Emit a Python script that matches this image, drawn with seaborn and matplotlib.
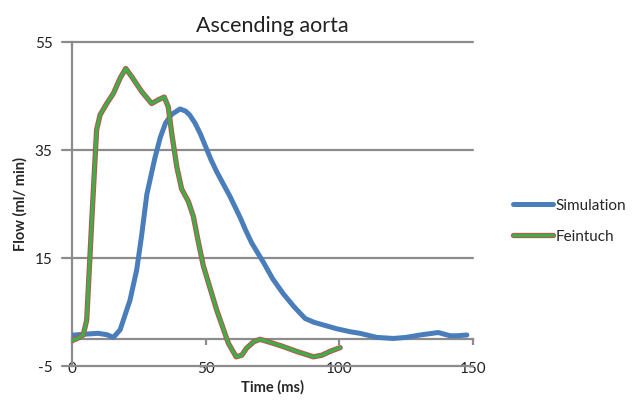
import matplotlib
matplotlib.use("Agg")
import matplotlib.pyplot as plt
import matplotlib.patheffects as pe
import seaborn as sns
import pandas as pd

# Simulated flow in the ascending aorta
sim_time = [0, 5, 9.8, 13, 15.5, 18, 21.7, 24.2, 26, 28, 31, 33, 35, 37.3, 40.4, 42.5,
            44, 46, 48, 50, 52, 54.1, 59.1, 62.9, 65, 67.2, 71.6, 75,
            79, 83, 87.2, 90.5, 94, 99, 104, 107.7, 114, 120.2, 125, 130.2, 134, 137, 141.4,
            144, 147.7]
sim_flow = [0.7, 0.9, 1.05, 0.8, 0.3, 1.7, 7.2, 12.8, 19, 26.8, 33.5, 37.3, 40.0, 41.6, 42.6, 42.2,
            41.5, 40.0, 38.0, 35.6, 33.2, 31.0, 26.4, 22.5, 20.1, 17.8, 14.2, 11.2,
            8.4, 6.0, 3.8, 3.1, 2.6, 1.9, 1.35, 1.05, 0.3, 0.1, 0.3, 0.74, 1.0, 1.2, 0.6,
            0.6, 0.74]

# Reference measurements (Feintuch)
fei_time = [0, 2, 4.2, 5.5, 7.4, 8.0, 9.2, 10.5, 13, 15.5, 18, 20.1, 22.3, 26.1, 29.8, 32.3,
            34.5, 36, 37.3, 39.2, 41, 43.5, 45.4, 47, 49.1, 54.1, 58.5, 61.4, 63.5, 65.3, 68,
            70.3, 74, 79, 84, 90.3, 93.5, 96.5, 100.3]
fei_flow = [-0.3, 0.1, 0.74, 3.5, 22, 27.6, 38.7, 41.5, 43.6, 45.5, 48.3, 50.1, 48.6, 45.8, 43.6,
            44.3, 44.8, 43.0, 38.1, 31.9, 27.8, 25.5, 22.7, 18.6, 13.6, 5.4, -0.8, -3.3, -3.0, -1.7,
            -0.5, -0.06, -0.6, -1.4, -2.3, -3.3, -3.0, -2.3, -1.6]

x_ticks = [0, 50, 100, 150]
y_ticks = [-5, 15, 35, 55]

sns.set_theme(style="white")
plt.rcParams["font.family"] = ["Lato", "DejaVu Sans"]
plt.rcParams["axes.unicode_minus"] = False

grey = "#8c8c8c"
fig = plt.figure(figsize=(6.39, 4.0), dpi=100)
ax = fig.add_axes([72 / 639, 1 - 366 / 400, (473 - 72) / 639, (366 - 42) / 400])

df_sim = pd.DataFrame({"Time": sim_time, "Flow": sim_flow})
df_fei = pd.DataFrame({"Time": fei_time, "Flow": fei_flow})

sns.lineplot(data=df_sim, x="Time", y="Flow", ax=ax, color="#4a7ebb", lw=3.6,
             sort=False, label="Simulation", zorder=4,
             solid_joinstyle="round", solid_capstyle="round")
sns.lineplot(data=df_fei, x="Time", y="Flow", ax=ax, color="#3dae48", lw=2.4,
             sort=False, label="Feintuch", zorder=5,
             solid_joinstyle="round", solid_capstyle="round",
             path_effects=[pe.Stroke(linewidth=3.8, foreground="#c0504d"), pe.Normal()])

ax.set_xlim(0, 150)
ax.set_ylim(-5, 55)
ax.set_yticks(y_ticks)
ax.set_xticks(x_ticks)

# horizontal gridlines extending slightly left of the axis as tick marks
for v in y_ticks:
    ax.axhline(v, color=grey, lw=1.6, zorder=1, xmin=-0.025, clip_on=False)

for s in ["top", "right"]:
    ax.spines[s].set_visible(False)
ax.spines["left"].set_color(grey)
ax.spines["left"].set_linewidth(1.6)
ax.spines["bottom"].set_position(("data", 0))
ax.spines["bottom"].set_color(grey)
ax.spines["bottom"].set_linewidth(1.6)

ax.tick_params(axis="y", left=False, length=0, pad=14, labelsize=11, colors="#222222")
ax.tick_params(axis="x", bottom=True, direction="out", length=4.5, width=1.6, color=grey,
               pad=12, labelsize=11, labelcolor="#222222")

ax.set_xlabel("Time (ms)", fontweight="bold", fontsize=10.5, labelpad=3)
ax.set_ylabel("Flow (ml/ min)", fontweight="bold", fontsize=10.5, labelpad=5)
ax.set_title("Ascending aorta", fontsize=15.5, pad=7, color="#222222")

ax.get_legend().remove()
handles, labels = ax.get_legend_handles_labels()
fig.legend(handles, labels, loc="center left", bbox_to_anchor=(0.803, 0.447),
           frameon=False, fontsize=11, handlelength=2.6, handletextpad=0.15,
           labelspacing=1.1, borderpad=0, borderaxespad=0)

fig.savefig("out.png", dpi=100)
